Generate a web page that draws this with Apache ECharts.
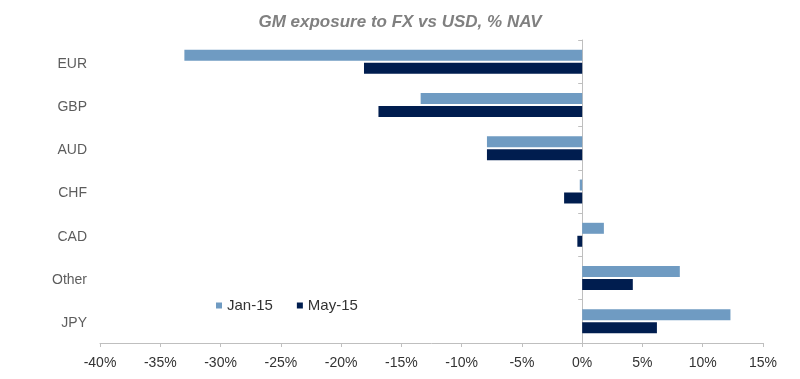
<!DOCTYPE html>
<html><head><meta charset="utf-8">
<script src="https://cdn.jsdelivr.net/npm/echarts@6/dist/echarts.min.js"></script>
<style>html,body{margin:0;padding:0;background:#fff}#c{width:800px;height:379px}</style>
</head><body><div id="c"></div>
<script>
const categories = ['EUR','GBP','AUD','CHF','CAD','Other','JPY'];
const jan15 = [-33.0, -13.4, -7.9, -0.2, 1.8, 8.1, 12.3];
const may15 = [-18.1, -16.9, -7.9, -1.5, -0.4, 4.2, 6.2];
const seriesNames = ['Jan-15','May-15'];
const titleText = 'GM exposure to FX vs USD, % NAV';

const chart = echarts.init(document.getElementById('c'), null, {renderer:'canvas'});
chart.setOption({
  animation:false,
  backgroundColor:'#fff',
  title:{text:titleText,left:'center',top:9,
    textStyle:{fontFamily:'Liberation Sans',fontSize:17,fontWeight:'bold',fontStyle:'italic',color:'#808080'}},
  legend:{data:seriesNames,left:216,top:298,padding:0,itemWidth:6,itemHeight:6,itemGap:24,icon:'rect',
    textStyle:{fontFamily:'Liberation Sans',fontSize:15,color:'#333'}},
  grid:{left:100,right:37,top:40,bottom:36,containLabel:false},
  xAxis:{type:'value',min:-40,max:15,interval:5,
    axisLine:{show:true,lineStyle:{color:'#bfbfbf'}},
    axisTick:{show:true,length:4,lineStyle:{color:'#bfbfbf'}},
    splitLine:{show:false},
    axisLabel:{formatter:v=>v+'%',fontFamily:'Liberation Sans',fontSize:14,color:'#333',margin:13}},
  yAxis:{type:'category',data:categories,inverse:true,
    axisLine:{show:true,onZero:true,lineStyle:{color:'#bfbfbf'}},
    axisTick:{show:true,length:4,lineStyle:{color:'#bfbfbf'}},
    axisLabel:{show:false}},
  series:[
    {name:seriesNames[0],type:'bar',data:jan15,barWidth:11,barGap:'18%',
      itemStyle:{color:'#6f9bc2'}},
    {name:seriesNames[1],type:'bar',data:may15,barWidth:11,barGap:'18%',
      itemStyle:{color:'#001d4f'}},
    {type:'scatter',data:categories.map(c=>[-40,c]),symbolSize:0,silent:true,
      label:{show:true,position:'left',distance:13,offset:[0,2],formatter:p=>p.value[1],
        fontFamily:'Liberation Sans',fontSize:14,color:'#333'}}
  ]
});
</script></body></html>
